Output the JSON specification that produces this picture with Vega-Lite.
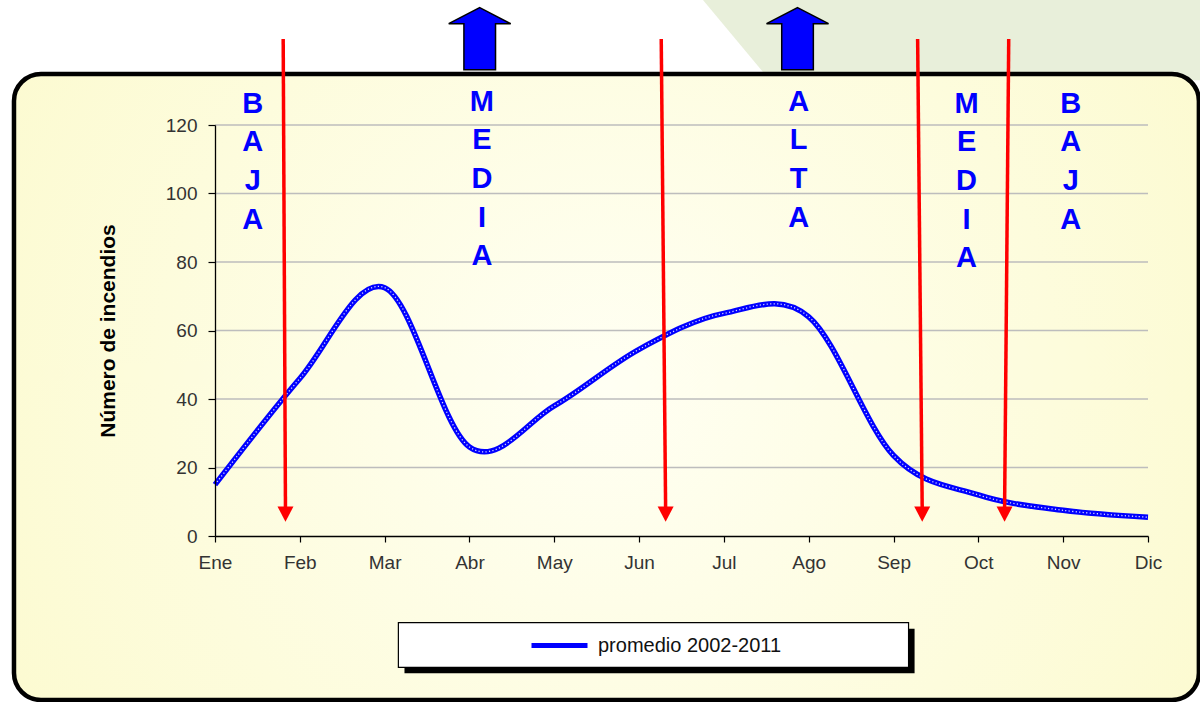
{
  "$schema": "https://vega.github.io/schema/vega-lite/v6.json",
  "width": 933,
  "height": 411,
  "autosize": {"type": "none"},
  "padding": {"left": 215, "top": 125, "right": 52, "bottom": 166},
  "background": "white",
  "config": {
    "view": {"stroke": null},
    "font": "Liberation Sans",
    "axisX": {
      "grid": false,
      "domainColor": "black", "domainWidth": 1.3,
      "tickColor": "black", "tickSize": 6, "tickWidth": 1.2,
      "labelFont": "Liberation Sans", "labelFontSize": 19, "labelColor": "#333333",
      "labelPadding": 11, "labelFlush": false, "labelOverlap": false
    },
    "axisY": {
      "grid": false,
      "domainColor": "black", "domainWidth": 1.3,
      "tickColor": "black", "tickSize": 7, "tickWidth": 1.2,
      "labelFont": "Liberation Sans", "labelFontSize": 19, "labelColor": "#333333", "labelPadding": 11,
      "titleFont": "Liberation Sans", "titleFontSize": 21, "titleFontWeight": "bold", "titleColor": "black",
      "titleX": -107, "titleY": 205.5, "titleAngle": -90, "titleAlign": "center", "titleBaseline": "middle"
    }
  },
  "datasets": {
    "incendios": [
      {"mes": "Ene", "m": 0, "promedio": 15},
      {"mes": "Feb", "m": 1, "promedio": 46},
      {"mes": "Mar", "m": 2, "promedio": 72.5},
      {"mes": "Abr", "m": 3, "promedio": 26},
      {"mes": "May", "m": 4, "promedio": 38},
      {"mes": "Jun", "m": 5, "promedio": 54.5},
      {"mes": "Jul", "m": 6, "promedio": 65},
      {"mes": "Ago", "m": 7, "promedio": 64},
      {"mes": "Sep", "m": 8, "promedio": 23.5},
      {"mes": "Oct", "m": 9, "promedio": 12},
      {"mes": "Nov", "m": 10, "promedio": 7.5},
      {"mes": "Dic", "m": 11, "promedio": 5.5}
    ],
    "fondo": [
      {"gx": 5.753, "gy": 158, "gy2": 156.5},
      {"gx": 6.539, "gy": 158, "gy2": 133.1},
      {"gx": 11.8, "gy": 158, "gy2": 133.1}
    ],
    "rejilla": [{"v": 20}, {"v": 40}, {"v": 60}, {"v": 80}, {"v": 100}, {"v": 120}],
    "umbrales": [
      {"m": 0.804, "m2": 0.831, "arriba": 145.1, "abajo": 7.5, "punta": 6.4},
      {"m": 5.261, "m2": 5.313, "arriba": 145.1, "abajo": 7.5, "punta": 6.4},
      {"m": 8.284, "m2": 8.338, "arriba": 145.1, "abajo": 7.5, "punta": 6.4},
      {"m": 9.358, "m2": 9.309, "arriba": 145.1, "abajo": 7.5, "punta": 6.4}
    ],
    "flechas": [
      {"m": 3.121, "nivel": 145.2},
      {"m": 6.868, "nivel": 145.2}
    ],
    "temporadas": [
      {"temporada": "B\nA\nJ\nA", "m": 0.446, "nivel": 123.6},
      {"temporada": "M\nE\nD\nI\nA", "m": 3.147, "nivel": 124.2},
      {"temporada": "A\nL\nT\nA", "m": 6.881, "nivel": 124.2},
      {"temporada": "M\nE\nD\nI\nA", "m": 8.861, "nivel": 123.6},
      {"temporada": "B\nA\nJ\nA", "m": 10.09, "nivel": 123.6}
    ]
  },
  "layer": [
    {
      "data": {"name": "fondo"},
      "mark": {"type": "area", "color": "#e8efda", "clip": false},
      "encoding": {
        "x": {"field": "gx", "type": "quantitative", "scale": {"domain": [0, 11], "nice": false, "zero": false},
          "axis": {"values": [0, 1, 2, 3, 4, 5, 6, 7, 8, 9, 10, 11], "labelExpr": "['Ene','Feb','Mar','Abr','May','Jun','Jul','Ago','Sep','Oct','Nov','Dic'][datum.value]", "title": null, "zindex": 2}},
        "y": {"field": "gy", "type": "quantitative", "scale": {"domain": [0, 120], "nice": false},
          "axis": {"values": [0, 20, 40, 60, 80, 100, 120], "title": "Número de incendios", "zindex": 2}},
        "y2": {"field": "gy2"}
      }
    },
    {
      "data": {"values": [{}]},
      "mark": {
        "type": "rect", "clip": false, "cornerRadius": 27, "stroke": "black", "strokeWidth": 4.5,
        "fill": {"gradient": "radial", "x1": 0.5, "y1": 0.5, "r1": 0, "x2": 0.5, "y2": 0.5, "r2": 0.75,
          "stops": [{"offset": 0, "color": "#fffff3"}, {"offset": 1, "color": "#fbf9c6"}]}
      },
      "encoding": {
        "x": {"datum": -2.37, "type": "quantitative", "scale": {"domain": [0, 11], "nice": false, "zero": false},
          "axis": {"values": [0, 1, 2, 3, 4, 5, 6, 7, 8, 9, 10, 11], "labelExpr": "['Ene','Feb','Mar','Abr','May','Jun','Jul','Ago','Sep','Oct','Nov','Dic'][datum.value]", "title": null, "zindex": 2}},
        "x2": {"datum": 11.6},
        "y": {"datum": 134.9, "type": "quantitative", "scale": {"domain": [0, 120], "nice": false},
          "axis": {"values": [0, 20, 40, 60, 80, 100, 120], "title": "Número de incendios", "zindex": 2}},
        "y2": {"datum": -47.88}
      }
    },
    {
      "data": {"values": [{}]},
      "mark": {"type": "rect", "clip": false, "fill": "black"},
      "encoding": {
        "x": {"datum": 2.234, "type": "quantitative", "scale": {"domain": [0, 11], "nice": false, "zero": false},
          "axis": {"values": [0, 1, 2, 3, 4, 5, 6, 7, 8, 9, 10, 11], "labelExpr": "['Ene','Feb','Mar','Abr','May','Jun','Jul','Ago','Sep','Oct','Nov','Dic'][datum.value]", "title": null, "zindex": 2}},
        "x2": {"datum": 8.248},
        "y": {"datum": -27.07, "type": "quantitative", "scale": {"domain": [0, 120], "nice": false},
          "axis": {"values": [0, 20, 40, 60, 80, 100, 120], "title": "Número de incendios", "zindex": 2}},
        "y2": {"datum": -40.09}
      }
    },
    {
      "data": {"values": [{}]},
      "mark": {"type": "rect", "clip": false, "fill": "white", "stroke": "black", "strokeWidth": 1.2},
      "encoding": {
        "x": {"datum": 2.162, "type": "quantitative", "scale": {"domain": [0, 11], "nice": false, "zero": false},
          "axis": {"values": [0, 1, 2, 3, 4, 5, 6, 7, 8, 9, 10, 11], "labelExpr": "['Ene','Feb','Mar','Abr','May','Jun','Jul','Ago','Sep','Oct','Nov','Dic'][datum.value]", "title": null, "zindex": 2}},
        "x2": {"datum": 8.177},
        "y": {"datum": -25.31, "type": "quantitative", "scale": {"domain": [0, 120], "nice": false},
          "axis": {"values": [0, 20, 40, 60, 80, 100, 120], "title": "Número de incendios", "zindex": 2}},
        "y2": {"datum": -38.34}
      }
    },
    {
      "data": {"name": "rejilla"},
      "mark": {"type": "rule", "color": "#bdbdbd", "strokeWidth": 1.5},
      "encoding": {
        "y": {"field": "v", "type": "quantitative", "scale": {"domain": [0, 120], "nice": false},
          "axis": {"values": [0, 20, 40, 60, 80, 100, 120], "title": "Número de incendios", "zindex": 2}}
      }
    },
    {
      "data": {"name": "incendios"},
      "mark": {"type": "line", "interpolate": "cardinal", "strokeWidth": 5.5, "clip": false},
      "encoding": {
        "x": {"field": "m", "type": "quantitative", "scale": {"domain": [0, 11], "nice": false, "zero": false},
          "axis": {"values": [0, 1, 2, 3, 4, 5, 6, 7, 8, 9, 10, 11], "labelExpr": "['Ene','Feb','Mar','Abr','May','Jun','Jul','Ago','Sep','Oct','Nov','Dic'][datum.value]", "title": null, "zindex": 2}},
        "y": {"field": "promedio", "type": "quantitative", "scale": {"domain": [0, 120], "nice": false},
          "axis": {"values": [0, 20, 40, 60, 80, 100, 120], "title": "Número de incendios", "zindex": 2}},
        "color": {
          "datum": "promedio 2002-2011",
          "type": "nominal",
          "scale": {"range": ["#0000ff"]},
          "legend": {
            "orient": "none", "legendX": 314, "legendY": 490, "zindex": 3,
            "title": null, "symbolType": "stroke", "symbolSize": 3136, "symbolStrokeWidth": 5,
            "labelFont": "Liberation Sans", "labelFontSize": 20, "labelColor": "#111111",
            "labelOffset": 8, "labelLimit": 0, "padding": 0
          }
        }
      }
    },
    {
      "data": {"name": "incendios"},
      "mark": {"type": "line", "interpolate": "cardinal", "strokeWidth": 1.3, "color": "white", "strokeDash": [1.2, 2.3], "opacity": 0.85, "clip": false},
      "encoding": {
        "x": {"field": "m", "type": "quantitative", "scale": {"domain": [0, 11], "nice": false, "zero": false},
          "axis": {"values": [0, 1, 2, 3, 4, 5, 6, 7, 8, 9, 10, 11], "labelExpr": "['Ene','Feb','Mar','Abr','May','Jun','Jul','Ago','Sep','Oct','Nov','Dic'][datum.value]", "title": null, "zindex": 2}},
        "y": {"field": "promedio", "type": "quantitative", "scale": {"domain": [0, 120], "nice": false},
          "axis": {"values": [0, 20, 40, 60, 80, 100, 120], "title": "Número de incendios", "zindex": 2}}
      }
    },
    {
      "data": {"name": "umbrales"},
      "mark": {"type": "rule", "color": "#ff0000", "strokeWidth": 3.5, "clip": false},
      "encoding": {
        "x": {"field": "m", "type": "quantitative", "scale": {"domain": [0, 11], "nice": false, "zero": false},
          "axis": {"values": [0, 1, 2, 3, 4, 5, 6, 7, 8, 9, 10, 11], "labelExpr": "['Ene','Feb','Mar','Abr','May','Jun','Jul','Ago','Sep','Oct','Nov','Dic'][datum.value]", "title": null, "zindex": 2}},
        "x2": {"field": "m2"},
        "y": {"field": "arriba", "type": "quantitative", "scale": {"domain": [0, 120], "nice": false},
          "axis": {"values": [0, 20, 40, 60, 80, 100, 120], "title": "Número de incendios", "zindex": 2}},
        "y2": {"field": "abajo"}
      }
    },
    {
      "data": {"name": "umbrales"},
      "mark": {"type": "point", "shape": "M-1,-0.95L1,-0.95L0,0.95Z", "filled": true, "color": "#ff0000", "opacity": 1, "size": 256, "clip": false},
      "encoding": {
        "x": {"field": "m2", "type": "quantitative", "scale": {"domain": [0, 11], "nice": false, "zero": false},
          "axis": {"values": [0, 1, 2, 3, 4, 5, 6, 7, 8, 9, 10, 11], "labelExpr": "['Ene','Feb','Mar','Abr','May','Jun','Jul','Ago','Sep','Oct','Nov','Dic'][datum.value]", "title": null, "zindex": 2}},
        "y": {"field": "punta", "type": "quantitative", "scale": {"domain": [0, 120], "nice": false},
          "axis": {"values": [0, 20, 40, 60, 80, 100, 120], "title": "Número de incendios", "zindex": 2}}
      }
    },
    {
      "data": {"name": "flechas"},
      "mark": {"type": "point", "shape": "M0,-1L1,-0.485L0.51,-0.485L0.51,1L-0.51,1L-0.51,-0.485L-1,-0.485Z", "filled": true, "fill": "#0000ff", "stroke": "black", "strokeWidth": 1.5, "opacity": 1, "size": 3844, "clip": false},
      "encoding": {
        "x": {"field": "m", "type": "quantitative", "scale": {"domain": [0, 11], "nice": false, "zero": false},
          "axis": {"values": [0, 1, 2, 3, 4, 5, 6, 7, 8, 9, 10, 11], "labelExpr": "['Ene','Feb','Mar','Abr','May','Jun','Jul','Ago','Sep','Oct','Nov','Dic'][datum.value]", "title": null, "zindex": 2}},
        "y": {"field": "nivel", "type": "quantitative", "scale": {"domain": [0, 120], "nice": false},
          "axis": {"values": [0, 20, 40, 60, 80, 100, 120], "title": "Número de incendios", "zindex": 2}}
      }
    },
    {
      "data": {"name": "temporadas"},
      "mark": {"type": "text", "font": "Liberation Sans", "fontWeight": "bold", "fontSize": 29, "color": "#0000ff", "lineBreak": "\n", "lineHeight": 38.7, "align": "center", "baseline": "alphabetic", "clip": false},
      "encoding": {
        "x": {"field": "m", "type": "quantitative", "scale": {"domain": [0, 11], "nice": false, "zero": false},
          "axis": {"values": [0, 1, 2, 3, 4, 5, 6, 7, 8, 9, 10, 11], "labelExpr": "['Ene','Feb','Mar','Abr','May','Jun','Jul','Ago','Sep','Oct','Nov','Dic'][datum.value]", "title": null, "zindex": 2}},
        "y": {"field": "nivel", "type": "quantitative", "scale": {"domain": [0, 120], "nice": false},
          "axis": {"values": [0, 20, 40, 60, 80, 100, 120], "title": "Número de incendios", "zindex": 2}},
        "text": {"field": "temporada"}
      }
    }
  ]
}
